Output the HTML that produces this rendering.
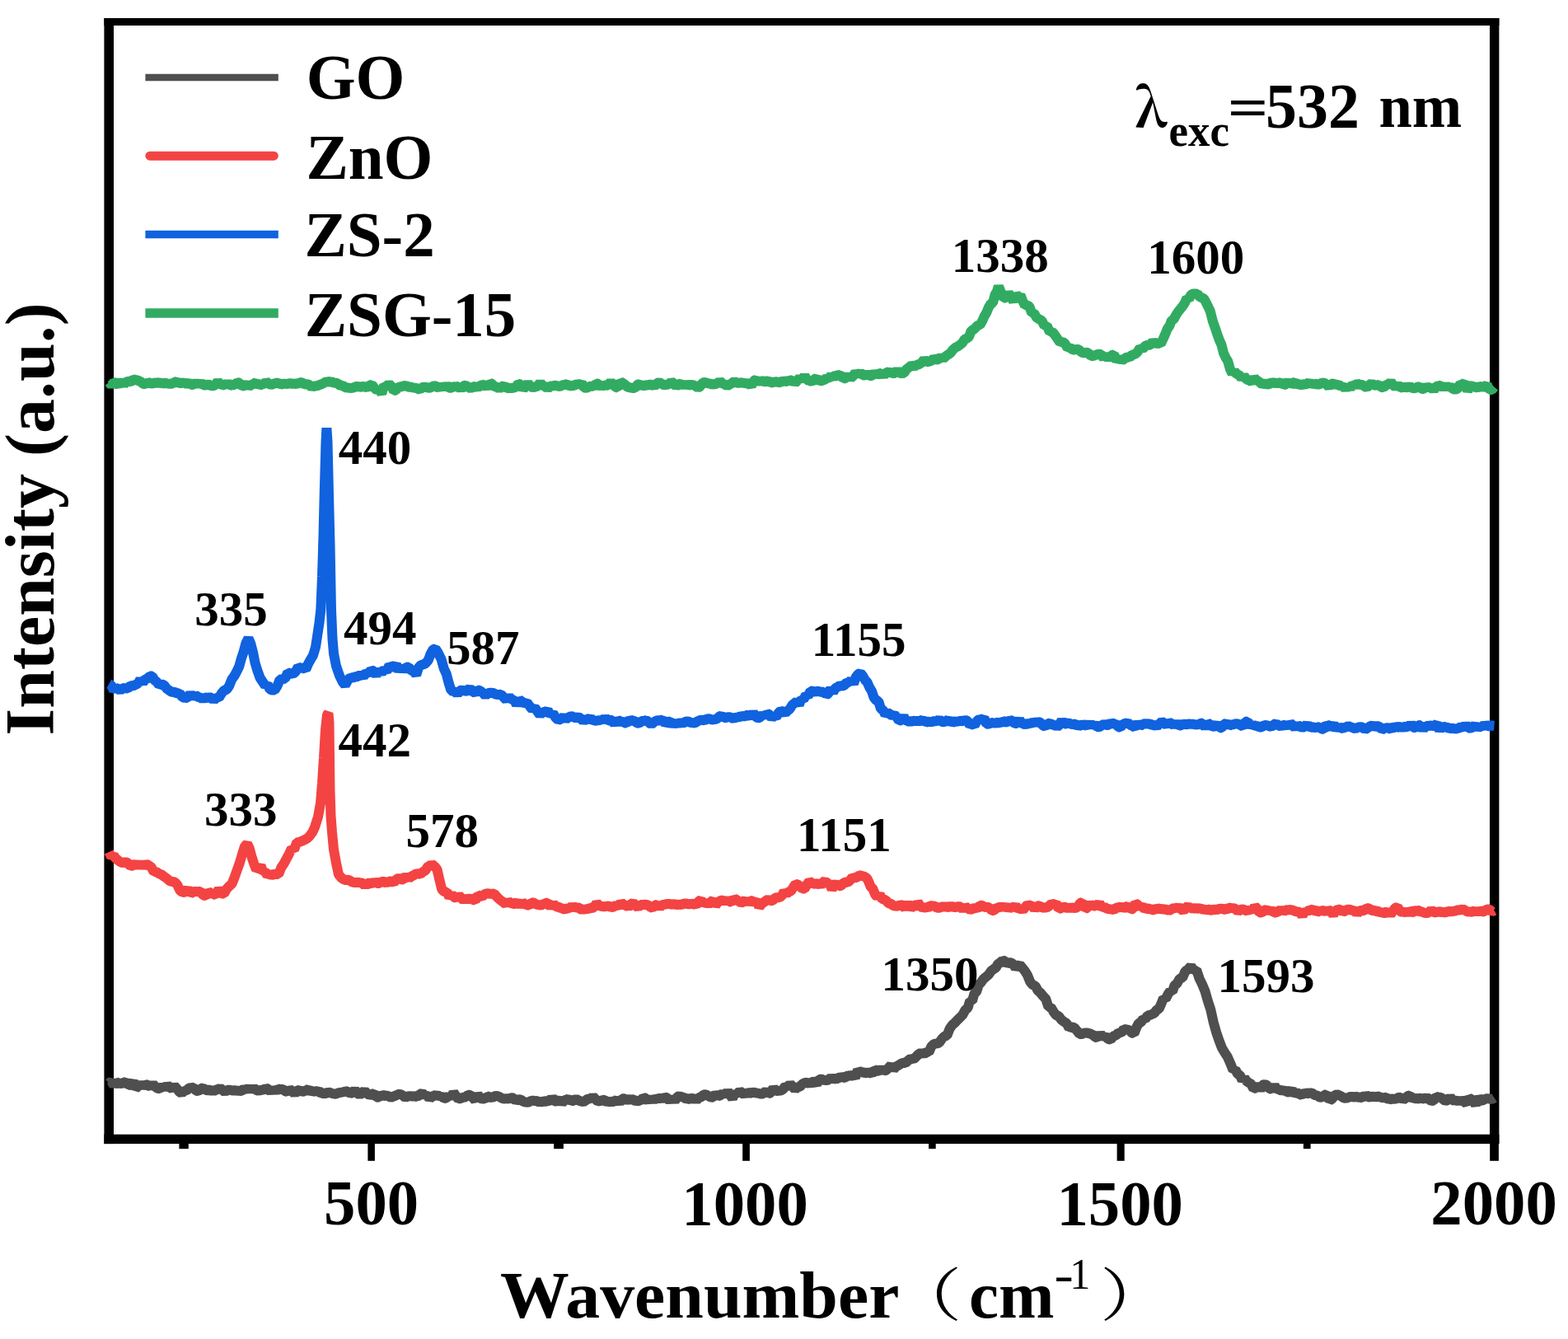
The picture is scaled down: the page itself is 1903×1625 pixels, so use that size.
<!DOCTYPE html>
<html><head><meta charset="utf-8"><title>Raman spectra</title>
<style>html,body{margin:0;padding:0;background:#fff;width:1903px;height:1625px;overflow:hidden}svg{display:block}</style>
</head><body>
<svg width="1903" height="1625" viewBox="0 0 1903 1625">
<rect width="1903" height="1625" fill="#fff"/>
<rect x="126.4" y="22.0" width="1693.0" height="9.0" fill="#000"/>
<rect x="126.4" y="1376.7" width="1693.0" height="11.4" fill="#000"/>
<rect x="126.4" y="22.0" width="11.6" height="1366.1" fill="#000"/>
<rect x="1808.0" y="22.0" width="11.4" height="1366.1" fill="#000"/>
<rect x="446.4" y="1387.0" width="8.5" height="21.8" fill="#000"/>
<rect x="901.2" y="1387.0" width="8.7" height="21.8" fill="#000"/>
<rect x="1355.6" y="1387.0" width="9.1" height="21.8" fill="#000"/>
<rect x="1808.2" y="1387.0" width="10.7" height="21.8" fill="#000"/>
<rect x="217.4" y="1387.0" width="11.4" height="7.2" fill="#000"/>
<rect x="672.2" y="1387.0" width="11.7" height="7.2" fill="#000"/>
<rect x="1127.1" y="1387.0" width="8.6" height="7.2" fill="#000"/>
<rect x="1581.9" y="1387.0" width="8.7" height="7.2" fill="#000"/>
<path d="M132.2,1314.7 L135.2,1311.9 L138.1,1317.4 L141.1,1313.3 L144.0,1314.6 L147.0,1315.1 L150.0,1313.9 L152.9,1312.8 L155.9,1317.0 L158.8,1316.5 L161.8,1312.1 L164.7,1320.9 L167.7,1318.3 L170.7,1315.0 L173.6,1318.5 L176.6,1316.0 L179.5,1317.0 L182.5,1318.9 L185.4,1315.0 L188.3,1318.9 L191.2,1320.9 L194.2,1321.1 L197.1,1318.2 L200.0,1321.0 L202.9,1316.4 L205.8,1319.7 L208.8,1321.3 L211.7,1318.1 L214.6,1321.0 L217.5,1324.9 L220.4,1327.0 L223.3,1323.6 L226.2,1323.9 L229.2,1320.5 L232.1,1320.1 L235.0,1319.8 L237.9,1323.7 L240.8,1324.1 L243.8,1321.3 L246.7,1320.1 L249.6,1323.1 L252.5,1323.2 L255.5,1322.3 L258.4,1325.1 L261.3,1322.4 L264.2,1322.5 L267.1,1320.4 L270.1,1322.9 L273.0,1325.3 L275.9,1322.7 L278.8,1322.7 L281.8,1323.5 L284.7,1323.2 L287.6,1323.7 L290.5,1323.7 L293.4,1323.9 L296.3,1321.1 L299.2,1323.3 L302.2,1319.6 L305.1,1323.4 L308.0,1320.4 L310.9,1322.9 L313.8,1324.0 L316.7,1322.4 L319.6,1323.5 L322.5,1320.1 L325.4,1321.8 L328.4,1324.9 L331.3,1321.3 L334.2,1325.0 L337.1,1321.0 L340.0,1322.1 L342.9,1321.8 L345.9,1324.1 L348.8,1325.2 L351.7,1322.0 L354.6,1323.9 L357.6,1327.6 L360.5,1323.7 L363.4,1322.8 L366.4,1325.3 L369.3,1324.1 L372.2,1323.2 L375.1,1321.1 L378.1,1326.4 L381.0,1323.7 L383.9,1324.9 L386.8,1322.9 L389.8,1327.7 L392.7,1326.7 L395.6,1327.3 L398.5,1325.2 L401.5,1326.4 L404.4,1327.4 L407.3,1327.7 L410.2,1326.4 L413.2,1325.8 L416.1,1325.3 L419.0,1324.7 L421.9,1324.3 L424.8,1327.1 L427.8,1326.0 L430.7,1322.7 L433.6,1326.5 L436.5,1329.0 L439.5,1326.5 L442.4,1323.5 L445.3,1327.1 L448.2,1329.0 L451.1,1328.0 L454.1,1326.9 L457.0,1331.6 L459.9,1331.9 L462.8,1328.0 L465.7,1330.0 L468.6,1329.4 L471.6,1330.3 L474.5,1331.8 L477.4,1330.7 L480.3,1329.4 L483.2,1328.1 L486.1,1327.9 L489.1,1329.6 L492.0,1332.1 L494.9,1330.5 L497.8,1330.1 L500.7,1330.6 L503.6,1330.2 L506.6,1331.3 L509.5,1328.1 L512.4,1326.4 L515.3,1329.6 L518.3,1328.2 L521.2,1333.8 L524.1,1330.3 L527.0,1330.2 L529.9,1327.7 L532.9,1331.4 L535.8,1329.6 L538.7,1333.2 L541.6,1332.7 L544.6,1329.5 L547.5,1332.0 L550.4,1325.8 L553.3,1329.9 L556.2,1333.8 L559.2,1333.0 L562.1,1331.8 L565.0,1331.5 L567.9,1328.7 L570.9,1328.9 L573.8,1332.2 L576.7,1335.3 L579.6,1327.5 L582.5,1333.2 L585.5,1333.2 L588.4,1334.0 L591.3,1330.4 L594.2,1331.2 L597.2,1332.4 L600.1,1330.3 L603.0,1330.0 L605.9,1330.9 L608.8,1332.6 L611.7,1333.7 L614.6,1333.1 L617.6,1333.6 L620.5,1332.3 L623.4,1332.5 L626.3,1336.4 L629.2,1334.3 L632.1,1334.5 L635.0,1336.8 L637.9,1337.6 L640.9,1337.9 L643.8,1336.3 L646.7,1335.5 L649.6,1336.3 L652.5,1336.1 L655.4,1338.5 L658.3,1336.3 L661.2,1336.9 L664.2,1335.6 L667.1,1338.3 L670.0,1331.4 L672.9,1336.2 L675.8,1336.9 L678.8,1333.0 L681.7,1339.6 L684.6,1334.9 L687.5,1334.9 L690.4,1333.0 L693.3,1336.8 L696.2,1335.5 L699.2,1333.8 L702.1,1335.5 L705.0,1336.4 L707.9,1337.4 L710.8,1335.5 L713.8,1333.1 L716.7,1334.0 L719.6,1330.5 L722.5,1333.7 L725.5,1336.7 L728.4,1336.2 L731.3,1335.1 L734.2,1334.7 L737.1,1338.6 L740.1,1336.1 L743.0,1337.4 L745.9,1336.4 L748.8,1334.3 L751.8,1338.8 L754.7,1333.2 L757.6,1333.3 L760.5,1334.8 L763.4,1334.2 L766.3,1334.5 L769.2,1334.3 L772.2,1337.3 L775.1,1335.3 L778.0,1335.8 L780.9,1331.7 L783.8,1333.0 L786.7,1336.7 L789.6,1331.9 L792.5,1336.5 L795.4,1331.9 L798.4,1334.3 L801.3,1331.9 L804.2,1333.7 L807.1,1331.4 L810.0,1332.5 L812.9,1336.2 L815.9,1331.9 L818.8,1336.5 L821.7,1331.4 L824.6,1329.8 L827.6,1332.1 L830.5,1330.9 L833.4,1335.0 L836.4,1333.0 L839.3,1333.5 L842.2,1332.2 L845.1,1335.7 L848.1,1332.1 L851.0,1331.4 L853.9,1328.5 L856.8,1328.2 L859.8,1330.2 L862.7,1331.6 L865.6,1331.7 L868.5,1327.4 L871.5,1330.2 L874.4,1329.3 L877.3,1326.6 L880.2,1329.7 L883.2,1324.0 L886.1,1328.9 L889.0,1333.2 L891.9,1326.0 L894.8,1327.9 L897.8,1324.0 L900.7,1326.1 L903.6,1328.9 L906.5,1325.1 L909.5,1326.9 L912.4,1326.0 L915.3,1325.7 L918.2,1326.6 L921.1,1326.9 L924.0,1328.0 L927.0,1326.8 L929.9,1323.6 L932.8,1327.1 L935.7,1326.3 L938.6,1320.1 L941.5,1324.1 L944.5,1323.8 L947.4,1323.6 L950.3,1322.2 L953.2,1317.9 L956.1,1319.4 L959.0,1315.3 L962.0,1318.5 L964.9,1322.4 L967.8,1319.2 L970.7,1319.0 L973.6,1315.7 L976.6,1314.2 L979.5,1313.6 L982.4,1315.4 L985.3,1313.0 L988.3,1312.8 L991.2,1315.8 L994.1,1309.7 L997.0,1309.7 L999.9,1310.8 L1002.9,1311.1 L1005.8,1310.4 L1008.7,1307.4 L1011.6,1310.0 L1014.6,1308.8 L1017.5,1309.2 L1020.4,1305.8 L1023.3,1308.0 L1026.2,1307.4 L1029.2,1305.2 L1032.1,1305.7 L1035.0,1304.6 L1037.9,1307.9 L1040.9,1298.6 L1043.8,1301.5 L1046.7,1300.5 L1049.6,1302.7 L1052.5,1301.7 L1055.5,1301.7 L1058.4,1303.5 L1061.3,1298.2 L1064.2,1299.2 L1067.2,1299.8 L1070.1,1297.2 L1073.0,1299.6 L1075.8,1298.7 L1078.7,1295.7 L1081.5,1292.5 L1084.4,1298.0 L1087.2,1294.5 L1090.1,1293.1 L1093.0,1291.2 L1095.8,1289.8 L1098.9,1290.1 L1102.1,1287.1 L1105.2,1284.5 L1108.4,1285.7 L1111.5,1282.8 L1114.7,1279.5 L1117.8,1277.5 L1121.0,1279.6 L1124.1,1276.6 L1127.3,1277.0 L1130.4,1269.9 L1133.6,1266.9 L1136.7,1266.4 L1139.9,1265.4 L1143.0,1260.9 L1146.2,1257.5 L1149.3,1256.9 L1152.5,1248.6 L1155.6,1244.0 L1158.8,1241.2 L1162.0,1237.9 L1165.1,1234.9 L1168.3,1231.6 L1171.4,1225.9 L1174.6,1223.0 L1177.2,1214.8 L1179.9,1214.8 L1182.5,1205.7 L1185.1,1203.6 L1187.8,1195.0 L1190.4,1192.6 L1193.5,1188.1 L1196.7,1185.5 L1199.8,1182.9 L1203.0,1178.3 L1206.1,1175.9 L1208.7,1174.3 L1211.4,1169.3 L1214.0,1168.6 L1216.7,1165.0 L1219.3,1166.3 L1222.0,1169.9 L1224.7,1168.3 L1227.3,1168.3 L1230.0,1170.6 L1232.6,1174.7 L1235.1,1172.3 L1237.7,1170.8 L1240.8,1174.5 L1244.0,1178.6 L1247.1,1183.7 L1250.3,1191.7 L1253.4,1195.3 L1256.6,1196.6 L1259.7,1202.3 L1262.9,1205.1 L1266.0,1208.9 L1269.2,1212.2 L1272.4,1222.0 L1275.5,1222.4 L1278.7,1227.9 L1281.8,1232.2 L1285.0,1233.1 L1288.1,1237.6 L1291.3,1240.1 L1294.4,1241.8 L1297.6,1247.8 L1300.7,1246.2 L1303.9,1247.2 L1307.0,1250.8 L1310.2,1254.9 L1313.3,1255.0 L1316.5,1253.4 L1319.6,1253.6 L1322.8,1254.4 L1325.9,1255.7 L1329.1,1258.4 L1332.2,1259.9 L1335.4,1254.1 L1338.5,1259.1 L1341.7,1257.2 L1344.8,1261.1 L1348.0,1261.6 L1351.2,1257.5 L1354.3,1256.4 L1357.5,1253.2 L1360.6,1253.9 L1363.8,1248.8 L1367.1,1249.4 L1370.4,1250.1 L1373.7,1253.5 L1376.4,1254.4 L1379.1,1247.3 L1381.9,1241.8 L1384.6,1240.9 L1387.3,1236.4 L1390.0,1237.0 L1392.8,1232.2 L1395.5,1232.0 L1398.3,1230.8 L1401.0,1229.6 L1403.7,1225.6 L1406.5,1224.5 L1409.2,1218.6 L1412.0,1211.3 L1414.7,1212.4 L1417.4,1206.9 L1420.1,1202.8 L1422.9,1203.4 L1425.6,1195.5 L1428.3,1193.8 L1431.7,1187.7 L1435.1,1186.6 L1438.5,1178.6 L1442.0,1176.5 L1445.4,1172.5 L1448.8,1177.9 L1452.2,1177.2 L1455.6,1187.5 L1459.0,1194.5 L1462.5,1202.9 L1465.9,1214.9 L1469.3,1225.2 L1472.7,1240.5 L1476.1,1252.7 L1479.5,1262.6 L1483.0,1271.8 L1486.4,1277.5 L1489.8,1282.6 L1493.2,1290.3 L1496.6,1298.9 L1499.3,1297.9 L1502.1,1303.5 L1504.8,1304.7 L1507.6,1311.2 L1510.3,1308.0 L1513.0,1312.2 L1515.8,1314.0 L1518.5,1315.7 L1521.3,1321.2 L1524.0,1320.5 L1526.7,1316.0 L1529.4,1323.0 L1532.2,1316.8 L1534.9,1315.9 L1537.6,1317.1 L1540.6,1321.0 L1543.7,1322.2 L1546.7,1317.1 L1549.8,1322.9 L1552.8,1321.9 L1555.9,1324.3 L1558.9,1322.5 L1562.0,1325.5 L1565.0,1325.3 L1568.0,1322.3 L1571.1,1328.1 L1574.1,1326.1 L1577.1,1327.7 L1580.2,1329.3 L1583.2,1325.3 L1586.2,1327.5 L1589.3,1326.4 L1592.3,1326.4 L1595.3,1329.0 L1598.4,1329.4 L1601.4,1331.5 L1604.4,1331.8 L1607.5,1329.1 L1610.5,1327.6 L1613.5,1335.8 L1616.6,1333.8 L1619.6,1329.5 L1622.5,1328.0 L1625.4,1329.2 L1628.3,1330.8 L1631.2,1332.7 L1634.1,1332.6 L1637.0,1331.8 L1639.9,1330.6 L1642.8,1331.6 L1645.7,1330.8 L1648.6,1331.7 L1651.4,1331.5 L1654.3,1332.8 L1657.1,1328.1 L1660.0,1331.3 L1662.8,1331.5 L1665.7,1330.0 L1668.6,1332.0 L1671.4,1330.3 L1674.3,1331.2 L1677.1,1332.1 L1680.0,1332.2 L1682.8,1331.7 L1685.7,1335.1 L1688.5,1333.4 L1691.4,1333.7 L1694.3,1333.6 L1697.1,1331.9 L1700.0,1331.6 L1702.8,1335.1 L1705.7,1332.8 L1708.5,1330.0 L1711.4,1329.2 L1714.3,1334.1 L1717.1,1332.3 L1720.0,1333.7 L1722.8,1332.8 L1725.7,1333.1 L1728.5,1333.6 L1731.4,1331.6 L1734.2,1334.1 L1737.1,1336.2 L1739.9,1335.6 L1742.8,1330.8 L1745.6,1331.7 L1748.5,1331.7 L1751.3,1334.0 L1754.2,1336.2 L1757.0,1335.2 L1759.9,1331.1 L1762.7,1334.7 L1765.6,1336.3 L1768.4,1333.8 L1771.3,1338.5 L1774.1,1333.4 L1777.0,1337.0 L1779.8,1339.4 L1782.6,1332.1 L1785.4,1334.1 L1788.2,1335.8 L1791.0,1341.1 L1793.8,1331.1 L1796.7,1335.8 L1799.5,1335.3 L1802.3,1333.9 L1805.1,1333.0 L1807.9,1333.6 L1810.7,1334.1 L1813.5,1332.2" fill="none" stroke="#4f4f4f" stroke-width="12" stroke-linejoin="bevel" stroke-linecap="butt"/>
<path d="M132.2,1034.0 L135.1,1040.0 L138.0,1037.9 L140.6,1041.9 L143.2,1044.0 L145.8,1045.9 L148.9,1047.4 L152.1,1046.0 L155.2,1047.3 L158.4,1051.4 L161.5,1050.4 L164.7,1048.2 L167.8,1051.1 L171.0,1048.3 L174.1,1051.0 L177.3,1048.6 L180.4,1050.2 L183.6,1052.3 L186.7,1058.1 L189.9,1057.9 L193.0,1060.4 L196.2,1061.5 L199.3,1063.9 L202.5,1066.1 L205.6,1068.9 L208.8,1069.9 L212.0,1070.5 L215.1,1073.7 L218.3,1080.4 L221.4,1083.1 L224.6,1082.5 L227.8,1078.3 L230.9,1084.9 L234.1,1082.5 L237.2,1081.9 L240.4,1082.2 L243.5,1081.8 L246.7,1086.7 L249.8,1087.2 L253.0,1082.2 L256.1,1084.1 L259.3,1085.0 L262.4,1086.5 L265.6,1078.4 L268.7,1084.3 L271.9,1084.7 L275.1,1078.7 L278.2,1075.5 L281.4,1072.6 L284.5,1065.1 L287.7,1056.0 L290.9,1047.1 L294.0,1036.6 L297.0,1027.1 L300.0,1024.0 L302.8,1029.7 L305.5,1040.0 L308.2,1048.2 L311.0,1055.4 L313.7,1053.8 L316.5,1050.6 L319.2,1058.1 L321.8,1057.4 L324.4,1062.6 L327.0,1060.8 L329.7,1062.2 L332.3,1061.0 L335.0,1060.8 L338.1,1061.0 L341.3,1052.9 L344.4,1048.3 L347.6,1042.4 L350.7,1036.6 L353.9,1029.7 L357.0,1031.2 L360.2,1022.3 L363.3,1021.8 L366.5,1020.6 L369.6,1019.3 L372.8,1017.5 L375.9,1014.4 L379.1,1010.2 L382.2,1003.4 L386.0,991.2 L389.0,974.8 L391.0,950.4 L393.0,919.3 L395.0,885.6 L397.0,867.2 L398.5,865.5 L399.5,877.5 L400.0,920.0 L400.5,960.1 L401.5,990.2 L403.0,1009.8 L405.0,1030.9 L408.0,1047.5 L411.0,1061.4 L414.5,1065.5 L418.0,1067.9 L420.9,1067.7 L423.8,1067.9 L426.6,1070.2 L429.5,1070.9 L432.2,1071.1 L435.0,1070.8 L437.7,1071.3 L440.4,1071.9 L443.1,1075.5 L445.9,1071.8 L448.6,1071.7 L451.5,1073.0 L454.5,1069.4 L457.4,1072.0 L460.4,1071.9 L463.3,1069.6 L466.2,1070.0 L469.2,1072.0 L472.1,1069.6 L475.1,1069.6 L478.0,1071.0 L481.0,1067.2 L484.0,1065.6 L487.0,1067.2 L490.0,1067.5 L493.0,1062.3 L496.0,1066.4 L499.0,1063.6 L502.0,1062.4 L504.8,1060.4 L507.5,1060.3 L510.2,1060.9 L513.0,1058.3 L516.2,1056.5 L519.5,1051.3 L521.8,1051.0 L524.0,1048.5 L528.0,1052.0 L530.5,1055.2 L533.0,1066.1 L536.3,1079.6 L539.6,1082.6 L542.5,1082.3 L545.3,1089.0 L548.2,1085.6 L551.1,1088.8 L554.0,1090.2 L556.8,1086.3 L559.7,1090.0 L562.6,1092.5 L565.4,1089.7 L568.3,1091.7 L571.2,1090.2 L574.0,1091.9 L576.9,1093.0 L579.8,1086.4 L582.6,1087.3 L585.5,1087.9 L588.4,1085.1 L591.3,1084.2 L594.1,1084.7 L597.0,1084.8 L599.8,1084.6 L602.7,1088.0 L605.5,1090.9 L608.3,1093.1 L611.1,1095.0 L614.0,1097.6 L616.8,1093.3 L619.6,1095.9 L622.5,1096.6 L625.3,1097.4 L628.2,1093.2 L631.0,1100.2 L633.9,1094.7 L636.7,1097.1 L639.5,1098.1 L642.4,1098.8 L645.2,1095.3 L648.1,1095.7 L650.9,1097.6 L653.8,1098.1 L656.6,1098.8 L659.5,1097.1 L662.5,1096.1 L665.4,1095.2 L668.4,1101.7 L671.3,1096.0 L674.2,1100.6 L677.2,1100.3 L680.1,1101.8 L683.1,1102.7 L686.0,1104.0 L688.9,1101.6 L691.9,1102.9 L694.8,1098.5 L697.8,1102.6 L700.7,1100.8 L703.6,1102.3 L706.6,1104.9 L709.5,1102.5 L712.5,1104.3 L715.4,1101.5 L718.3,1102.4 L721.3,1100.5 L724.2,1095.9 L727.2,1099.2 L730.1,1099.8 L733.0,1100.4 L736.0,1099.8 L738.9,1099.3 L741.9,1101.3 L744.8,1100.5 L747.7,1098.3 L750.7,1100.7 L753.6,1094.9 L756.6,1098.2 L759.5,1098.4 L762.5,1101.2 L765.4,1097.5 L768.4,1095.6 L771.3,1098.8 L774.3,1101.7 L777.2,1097.9 L780.2,1098.0 L783.1,1097.8 L786.1,1098.2 L789.0,1100.6 L791.9,1101.9 L794.9,1098.8 L797.8,1097.6 L800.7,1101.5 L803.7,1097.9 L806.6,1097.8 L809.5,1096.9 L812.5,1096.9 L815.4,1098.0 L818.3,1096.9 L821.3,1098.2 L824.2,1097.5 L827.1,1098.3 L830.1,1096.4 L833.0,1096.6 L836.0,1097.4 L838.9,1096.9 L841.9,1096.8 L844.8,1098.7 L847.8,1094.0 L850.7,1092.0 L853.7,1097.1 L856.6,1094.9 L859.6,1097.8 L862.5,1094.7 L865.5,1092.3 L868.4,1098.7 L871.4,1094.9 L874.3,1093.0 L877.3,1092.2 L880.0,1094.7 L882.8,1092.0 L885.5,1094.0 L888.3,1095.3 L891.0,1090.1 L893.8,1092.0 L896.5,1093.6 L899.3,1095.9 L902.0,1094.6 L904.8,1092.0 L907.5,1096.1 L910.3,1092.8 L913.0,1093.6 L915.8,1095.0 L918.5,1092.4 L921.3,1100.9 L924.0,1097.2 L926.8,1095.1 L929.5,1093.1 L932.3,1091.2 L935.1,1093.3 L937.9,1092.9 L940.7,1089.7 L943.4,1088.9 L946.2,1089.3 L949.0,1086.8 L951.7,1081.8 L954.5,1085.0 L957.2,1082.3 L960.0,1081.5 L962.8,1076.9 L965.5,1072.8 L968.3,1073.5 L971.1,1075.8 L973.8,1078.6 L976.6,1078.4 L979.3,1073.7 L982.1,1069.6 L984.9,1071.4 L987.6,1072.7 L990.4,1072.6 L993.1,1072.0 L995.9,1074.9 L998.6,1071.0 L1001.4,1069.0 L1004.1,1072.2 L1006.9,1072.2 L1009.6,1079.3 L1012.4,1074.6 L1015.2,1071.9 L1017.9,1075.3 L1020.7,1075.0 L1023.5,1071.8 L1026.2,1070.6 L1029.0,1070.8 L1031.7,1068.3 L1034.5,1064.6 L1037.2,1065.7 L1040.0,1064.7 L1042.8,1062.2 L1045.5,1062.8 L1048.8,1063.7 L1052.0,1065.6 L1054.3,1070.0 L1056.6,1076.0 L1059.3,1078.4 L1062.1,1085.4 L1064.8,1089.0 L1067.6,1085.4 L1070.4,1091.1 L1073.1,1091.5 L1075.9,1093.3 L1078.7,1096.3 L1081.4,1096.9 L1084.2,1099.3 L1086.9,1099.5 L1089.7,1099.9 L1092.7,1097.8 L1095.7,1098.9 L1098.7,1102.6 L1101.7,1094.9 L1104.7,1103.4 L1107.8,1098.9 L1110.8,1102.5 L1113.8,1095.0 L1116.8,1099.4 L1119.8,1102.0 L1122.8,1100.7 L1125.7,1102.5 L1128.6,1098.8 L1131.4,1099.5 L1134.3,1099.4 L1137.2,1101.8 L1140.1,1101.7 L1142.9,1100.6 L1145.8,1100.4 L1148.7,1100.4 L1151.6,1101.2 L1154.5,1099.2 L1157.3,1101.1 L1160.2,1100.9 L1163.1,1100.2 L1166.0,1100.2 L1168.9,1104.3 L1171.7,1100.2 L1174.6,1102.3 L1177.5,1104.2 L1180.4,1103.0 L1183.2,1101.5 L1186.1,1103.5 L1189.0,1098.7 L1191.9,1099.0 L1194.8,1100.7 L1197.7,1101.0 L1200.6,1101.3 L1203.5,1105.2 L1206.4,1104.8 L1209.3,1101.3 L1212.2,1101.9 L1215.1,1099.5 L1218.0,1102.0 L1220.9,1098.6 L1223.8,1104.0 L1226.7,1100.2 L1229.6,1102.3 L1232.5,1098.5 L1235.4,1103.9 L1238.3,1102.3 L1241.2,1104.9 L1244.1,1101.1 L1247.1,1097.7 L1250.0,1099.3 L1252.9,1098.3 L1255.8,1103.9 L1258.7,1099.5 L1261.6,1099.2 L1264.5,1101.9 L1267.4,1101.2 L1270.3,1101.6 L1273.2,1099.6 L1276.1,1096.5 L1279.0,1097.8 L1281.9,1096.1 L1284.8,1103.0 L1287.7,1102.3 L1290.6,1099.7 L1293.5,1101.7 L1296.4,1101.8 L1299.3,1101.7 L1302.2,1101.5 L1305.1,1102.2 L1308.0,1100.6 L1310.9,1096.0 L1313.9,1094.9 L1316.8,1103.0 L1319.7,1101.7 L1322.6,1095.5 L1325.5,1100.9 L1328.4,1098.8 L1331.3,1099.5 L1334.2,1095.5 L1337.2,1102.3 L1340.1,1100.6 L1343.0,1102.5 L1345.9,1103.1 L1348.8,1103.5 L1351.7,1104.3 L1354.6,1101.6 L1357.5,1101.5 L1360.4,1099.9 L1363.4,1102.3 L1366.3,1100.8 L1369.2,1099.0 L1372.1,1103.8 L1375.0,1102.9 L1377.9,1096.2 L1380.8,1097.9 L1383.7,1101.2 L1386.6,1099.1 L1389.6,1104.3 L1392.5,1102.2 L1395.4,1103.1 L1398.3,1103.9 L1401.2,1104.8 L1404.1,1101.6 L1407.0,1103.5 L1409.9,1102.8 L1412.9,1103.9 L1415.8,1103.5 L1418.7,1105.3 L1421.6,1103.6 L1424.5,1101.6 L1427.4,1102.8 L1430.3,1100.3 L1433.2,1103.3 L1436.1,1105.8 L1439.0,1101.6 L1441.8,1099.5 L1444.7,1102.7 L1447.6,1101.9 L1450.5,1103.0 L1453.4,1101.9 L1456.3,1103.3 L1459.2,1101.1 L1462.1,1106.3 L1465.0,1102.8 L1467.8,1104.4 L1470.7,1104.9 L1473.6,1103.1 L1476.5,1104.4 L1479.4,1103.0 L1482.3,1102.7 L1485.2,1103.2 L1488.1,1104.7 L1491.0,1101.2 L1493.9,1102.0 L1496.8,1102.2 L1499.6,1102.8 L1502.5,1106.3 L1505.4,1104.0 L1508.3,1103.5 L1511.2,1104.4 L1514.1,1106.3 L1517.0,1102.7 L1519.9,1106.3 L1522.8,1099.6 L1525.7,1102.6 L1528.5,1107.4 L1531.4,1107.6 L1534.3,1104.9 L1537.2,1103.7 L1540.1,1106.2 L1543.0,1103.8 L1545.9,1107.8 L1548.8,1107.1 L1551.7,1106.3 L1554.5,1103.1 L1557.4,1106.7 L1560.3,1104.3 L1563.2,1104.4 L1566.1,1104.0 L1569.0,1104.7 L1571.9,1105.9 L1574.8,1106.6 L1577.7,1106.7 L1580.6,1111.8 L1583.5,1104.3 L1586.3,1107.4 L1589.2,1103.7 L1592.1,1104.7 L1595.0,1102.8 L1597.9,1107.5 L1600.8,1105.7 L1603.7,1105.4 L1606.6,1104.9 L1609.5,1107.0 L1612.3,1104.2 L1615.2,1106.0 L1618.1,1110.3 L1621.0,1105.0 L1623.9,1104.0 L1626.8,1103.3 L1629.7,1107.0 L1632.6,1105.5 L1635.5,1103.8 L1638.4,1103.7 L1641.2,1105.4 L1644.1,1103.4 L1647.0,1109.6 L1649.9,1105.0 L1652.8,1105.1 L1655.7,1105.3 L1658.6,1101.8 L1661.5,1102.5 L1664.4,1104.7 L1667.3,1105.4 L1670.2,1103.0 L1673.0,1108.9 L1675.9,1106.4 L1678.8,1108.1 L1681.7,1107.9 L1684.6,1105.1 L1687.5,1110.4 L1690.4,1105.8 L1693.3,1101.8 L1696.2,1100.9 L1699.0,1105.6 L1701.9,1107.3 L1704.8,1105.7 L1707.7,1109.1 L1710.6,1105.0 L1713.5,1106.7 L1716.4,1107.0 L1719.4,1103.5 L1722.3,1106.2 L1725.3,1106.3 L1728.2,1107.7 L1731.1,1108.0 L1734.1,1107.5 L1737.0,1104.0 L1740.0,1107.0 L1742.9,1107.7 L1745.9,1105.6 L1748.8,1107.0 L1751.7,1107.0 L1754.7,1107.8 L1757.6,1105.6 L1760.6,1106.4 L1763.5,1105.8 L1766.4,1105.5 L1769.4,1104.1 L1772.3,1104.6 L1775.3,1103.0 L1778.2,1104.9 L1781.1,1106.6 L1784.1,1106.5 L1787.0,1106.7 L1790.0,1104.9 L1792.9,1107.9 L1795.9,1104.2 L1798.8,1106.6 L1801.7,1105.9 L1804.7,1103.5 L1807.6,1103.6 L1810.6,1106.5 L1813.5,1105.0" fill="none" stroke="#f44343" stroke-width="12" stroke-linejoin="bevel" stroke-linecap="butt"/>
<path d="M132.2,830.0 L135.1,831.6 L138.0,838.2 L140.6,834.9 L143.2,835.9 L145.8,838.0 L148.9,835.1 L152.1,835.3 L155.2,835.6 L158.4,832.0 L161.5,832.5 L164.4,830.9 L167.4,829.7 L170.3,824.2 L173.2,829.1 L176.1,823.8 L179.1,823.9 L182.0,820.3 L184.8,820.7 L187.5,825.5 L190.2,827.4 L193.0,831.4 L196.2,830.2 L199.3,831.7 L202.5,835.9 L205.6,838.1 L208.8,840.0 L212.0,839.6 L215.1,841.8 L218.3,841.2 L221.4,846.5 L224.6,846.7 L227.8,846.9 L230.9,841.6 L234.1,846.6 L237.2,843.5 L240.4,846.1 L243.1,846.4 L245.8,848.6 L248.5,846.5 L251.2,847.0 L253.9,846.4 L256.6,846.6 L259.3,850.3 L262.4,846.4 L265.6,846.9 L268.8,841.6 L271.9,837.8 L275.1,836.9 L278.2,832.3 L281.4,824.3 L284.5,820.1 L287.7,814.1 L290.3,808.6 L292.9,799.1 L295.5,791.5 L298.5,780.2 L301.5,774.5 L304.2,780.9 L307.0,791.5 L309.5,804.1 L312.0,812.6 L315.6,822.6 L319.2,828.1 L321.9,832.3 L324.7,830.3 L327.4,836.5 L330.2,837.6 L333.4,837.5 L336.5,832.6 L339.6,824.7 L342.8,824.1 L346.0,823.8 L349.1,816.3 L352.3,817.1 L355.4,818.1 L358.6,815.2 L361.8,809.5 L364.9,810.9 L368.1,810.4 L371.2,812.4 L374.4,804.9 L377.2,800.0 L380.0,795.4 L383.0,785.4 L385.0,772.4 L387.5,755.9 L389.3,740.0 L391.0,699.8 L392.5,650.0 L393.7,600.0 L395.5,536.2 L396.4,519.3 L397.5,535.9 L399.0,600.1 L400.5,660.1 L402.0,740.0 L403.5,775.3 L405.0,793.1 L408.0,808.3 L412.0,819.9 L415.8,827.7 L418.9,831.6 L422.1,825.7 L425.2,822.0 L428.4,822.7 L431.5,821.0 L434.7,821.2 L437.8,818.3 L441.0,821.3 L444.1,816.2 L447.3,817.8 L450.4,813.0 L453.6,814.6 L456.7,819.8 L459.9,813.0 L463.0,816.9 L466.2,812.1 L469.3,814.8 L472.5,807.3 L475.3,809.3 L478.2,809.4 L481.0,806.2 L483.9,814.5 L486.7,809.2 L489.9,813.3 L493.0,809.8 L496.2,809.6 L499.3,814.1 L502.5,814.5 L505.2,819.3 L508.0,810.1 L510.8,807.1 L513.5,806.5 L516.6,805.0 L519.8,801.1 L522.7,793.5 L525.6,788.2 L528.5,787.2 L532.0,792.8 L535.6,800.2 L538.8,811.6 L541.9,818.3 L544.5,828.4 L547.2,837.1 L549.8,839.4 L552.4,839.0 L555.1,842.6 L557.7,838.8 L560.8,837.0 L564.0,839.0 L567.1,838.3 L570.3,835.0 L573.4,839.1 L576.6,840.9 L579.7,837.4 L582.9,838.2 L586.0,840.9 L589.2,844.3 L592.4,840.9 L595.5,840.7 L598.7,841.0 L601.8,842.8 L605.0,843.0 L608.1,842.7 L611.3,846.3 L614.4,849.4 L617.6,845.0 L620.7,849.3 L623.9,848.9 L627.0,855.5 L630.2,849.1 L633.3,851.4 L636.5,853.8 L639.6,852.6 L642.8,857.0 L645.9,860.9 L649.1,858.7 L652.2,863.3 L655.4,867.8 L658.5,864.0 L661.7,864.3 L664.8,861.9 L668.0,867.6 L671.2,865.5 L674.3,870.9 L677.5,874.0 L680.6,872.5 L683.8,870.1 L686.8,872.9 L689.9,870.5 L692.9,869.0 L695.9,870.1 L699.0,871.4 L702.0,870.1 L704.9,872.0 L707.9,875.4 L710.8,872.6 L713.8,873.3 L716.7,870.9 L719.7,875.3 L722.6,873.9 L725.6,875.7 L728.5,872.6 L731.5,875.1 L734.4,870.4 L737.4,874.7 L740.3,874.0 L743.3,873.9 L746.2,879.4 L749.1,872.9 L752.1,875.7 L755.0,875.7 L758.0,877.0 L760.9,878.0 L763.9,872.7 L766.8,874.9 L769.8,874.5 L772.7,877.3 L775.7,877.8 L778.6,875.1 L781.6,874.9 L784.5,873.9 L787.5,876.7 L790.4,879.3 L793.3,876.7 L796.3,874.5 L799.2,874.3 L802.2,874.5 L805.1,872.6 L808.0,879.4 L811.0,876.1 L813.9,875.3 L816.9,880.4 L819.8,876.4 L822.7,878.9 L825.7,876.5 L828.6,878.1 L831.6,876.1 L834.5,875.2 L837.4,876.7 L840.4,877.1 L843.3,877.6 L846.3,875.5 L849.2,874.2 L852.1,873.6 L855.1,874.5 L858.0,872.4 L861.0,872.2 L863.9,873.5 L866.8,873.1 L869.8,872.6 L872.7,869.8 L875.7,868.1 L878.6,871.4 L881.5,870.9 L884.5,869.9 L887.4,870.9 L890.4,872.2 L893.3,870.0 L896.3,871.2 L899.2,868.3 L902.2,869.8 L905.1,868.5 L908.1,867.3 L911.0,871.0 L914.0,864.3 L916.9,869.8 L919.9,871.4 L922.8,870.5 L925.5,866.5 L928.3,869.9 L931.0,865.6 L933.8,867.2 L936.5,871.6 L939.3,868.7 L942.0,870.3 L944.8,865.3 L947.6,862.5 L950.3,863.7 L953.1,865.6 L955.9,862.5 L958.7,860.3 L961.5,855.6 L964.2,853.4 L967.0,851.2 L969.8,855.4 L972.5,848.0 L975.2,849.2 L978.0,843.5 L980.8,844.8 L983.5,838.6 L986.2,838.8 L989.0,840.2 L991.8,838.5 L994.5,839.2 L997.2,840.0 L1000.0,839.4 L1002.8,843.3 L1005.5,841.7 L1008.2,835.5 L1011.0,840.2 L1013.8,835.2 L1016.5,833.7 L1019.2,831.9 L1022.0,832.8 L1024.8,831.5 L1027.6,828.2 L1030.4,828.5 L1033.2,824.8 L1036.0,829.7 L1038.7,821.8 L1041.5,818.2 L1044.2,816.6 L1047.1,820.3 L1050.0,825.4 L1052.6,828.2 L1055.2,834.1 L1058.0,838.8 L1060.7,846.7 L1063.5,850.0 L1066.2,850.9 L1069.0,860.2 L1071.8,861.7 L1074.5,867.6 L1077.3,864.9 L1080.0,866.6 L1082.8,868.6 L1085.5,867.3 L1088.3,870.4 L1091.0,874.6 L1093.8,874.2 L1096.5,868.6 L1099.3,876.3 L1102.3,874.8 L1105.2,876.0 L1108.2,874.6 L1111.1,875.1 L1114.1,875.0 L1117.0,875.1 L1120.0,873.0 L1122.9,877.2 L1125.7,875.7 L1128.6,876.1 L1131.4,876.1 L1134.3,874.8 L1137.1,875.4 L1140.0,872.9 L1142.9,876.1 L1145.7,876.2 L1148.6,875.2 L1151.4,872.3 L1154.3,878.5 L1157.1,875.5 L1160.0,875.8 L1162.9,875.3 L1165.7,874.8 L1168.6,875.2 L1171.4,873.8 L1174.3,874.9 L1177.1,880.2 L1180.0,878.5 L1182.9,880.2 L1185.7,875.0 L1188.6,872.5 L1191.4,873.6 L1194.3,871.1 L1197.1,878.6 L1200.0,878.9 L1202.9,876.8 L1205.7,877.4 L1208.6,877.4 L1211.4,876.5 L1214.3,878.3 L1217.1,874.8 L1220.0,876.1 L1222.9,876.7 L1225.7,873.7 L1228.6,875.2 L1231.4,878.1 L1234.3,878.0 L1237.1,872.5 L1240.0,879.3 L1242.9,878.3 L1245.7,879.2 L1248.6,877.6 L1251.4,879.0 L1254.3,875.3 L1257.1,877.5 L1260.0,875.9 L1262.9,877.1 L1265.7,880.5 L1268.6,881.5 L1271.4,878.4 L1274.3,877.5 L1277.1,880.0 L1280.0,879.4 L1282.9,882.4 L1285.7,879.8 L1288.6,873.9 L1291.4,878.8 L1294.3,878.1 L1297.1,877.2 L1300.0,879.1 L1302.9,879.0 L1305.7,878.2 L1308.6,882.0 L1311.4,879.8 L1314.3,879.9 L1317.1,879.4 L1320.0,881.6 L1322.9,877.0 L1325.7,881.6 L1328.6,878.8 L1331.4,882.3 L1334.3,882.2 L1337.1,880.3 L1340.0,878.5 L1342.9,880.0 L1345.7,880.1 L1348.6,876.5 L1351.4,878.8 L1354.3,878.1 L1357.1,882.2 L1360.0,882.9 L1362.9,878.0 L1365.9,878.4 L1368.8,876.8 L1371.8,880.0 L1374.7,881.1 L1377.6,883.1 L1380.6,876.9 L1383.5,881.3 L1386.5,879.2 L1389.4,878.0 L1392.4,878.8 L1395.3,877.9 L1398.2,880.4 L1401.2,879.5 L1404.1,881.8 L1407.1,878.4 L1410.0,875.7 L1412.9,877.5 L1415.9,880.1 L1418.8,876.5 L1421.8,878.0 L1424.7,880.5 L1427.6,876.7 L1430.6,881.1 L1433.5,880.1 L1436.5,878.3 L1439.4,879.4 L1442.4,878.5 L1445.3,878.7 L1448.2,878.8 L1451.2,879.5 L1454.1,879.3 L1457.1,878.0 L1460.0,877.5 L1462.9,883.6 L1465.7,877.3 L1468.6,879.2 L1471.4,881.9 L1474.3,881.5 L1477.2,878.1 L1480.0,883.5 L1482.9,883.1 L1485.8,879.0 L1488.6,877.2 L1491.5,880.9 L1494.3,879.4 L1497.2,879.2 L1500.1,878.2 L1502.9,878.7 L1505.8,880.2 L1508.6,881.7 L1511.5,875.9 L1514.4,875.3 L1517.2,882.0 L1520.1,878.5 L1522.9,881.6 L1525.8,880.5 L1528.7,882.8 L1531.5,882.2 L1534.4,879.9 L1537.2,880.2 L1540.1,881.2 L1543.0,882.1 L1545.8,879.5 L1548.7,877.7 L1551.6,881.0 L1554.4,880.8 L1557.3,880.6 L1560.1,879.0 L1563.0,882.3 L1565.9,877.7 L1568.9,880.2 L1571.8,883.8 L1574.7,879.1 L1577.6,882.2 L1580.6,882.4 L1583.5,882.4 L1586.4,878.3 L1589.4,883.8 L1592.3,882.2 L1595.2,882.9 L1598.1,882.7 L1601.1,882.3 L1604.0,884.7 L1606.9,885.2 L1609.9,878.7 L1612.8,881.0 L1615.7,882.3 L1618.6,878.4 L1621.6,885.7 L1624.5,881.3 L1627.4,884.0 L1630.4,883.4 L1633.3,882.5 L1636.2,881.0 L1639.1,882.3 L1642.1,883.2 L1645.0,884.6 L1647.9,882.7 L1650.9,882.3 L1653.8,882.5 L1656.7,885.6 L1659.6,883.6 L1662.6,881.6 L1665.5,880.4 L1668.4,882.1 L1671.4,881.0 L1674.3,881.9 L1677.2,885.4 L1680.1,884.1 L1683.1,883.1 L1686.0,883.4 L1688.9,886.0 L1691.9,880.2 L1694.8,883.3 L1697.7,882.0 L1700.6,882.6 L1703.6,882.4 L1706.5,881.6 L1709.4,883.3 L1712.4,877.8 L1715.3,882.7 L1718.2,883.5 L1721.1,880.2 L1724.1,880.1 L1727.0,885.9 L1729.9,880.3 L1732.8,881.3 L1735.7,880.5 L1738.5,880.9 L1741.4,880.7 L1744.3,877.9 L1747.2,886.8 L1750.1,880.6 L1753.0,882.8 L1755.8,881.9 L1758.7,884.7 L1761.6,883.4 L1764.5,884.3 L1767.4,884.4 L1770.2,883.7 L1773.1,882.1 L1776.0,883.9 L1778.9,878.9 L1781.8,883.8 L1784.7,883.5 L1787.5,882.7 L1790.4,879.4 L1793.3,884.7 L1796.2,880.7 L1799.1,883.3 L1802.0,878.4 L1804.8,881.7 L1807.7,880.8 L1810.6,880.5 L1813.5,880.7" fill="none" stroke="#1062de" stroke-width="12" stroke-linejoin="bevel" stroke-linecap="butt"/>
<path d="M132.2,464.0 L135.2,467.6 L138.1,464.0 L141.1,464.7 L144.1,468.3 L147.1,461.2 L150.1,467.1 L153.0,463.3 L156.0,462.8 L158.9,463.2 L161.9,460.5 L164.8,461.1 L167.7,461.9 L170.6,463.1 L173.6,465.7 L176.5,466.5 L179.4,463.7 L182.3,465.2 L185.3,465.5 L188.2,464.2 L191.1,465.2 L194.0,463.7 L197.0,466.1 L199.9,464.7 L202.8,465.3 L205.7,465.8 L208.7,465.7 L211.6,464.1 L214.5,462.9 L217.4,465.6 L220.4,464.6 L223.3,464.8 L226.2,465.7 L229.1,464.5 L232.1,466.9 L235.0,466.8 L237.9,464.3 L240.9,466.8 L243.8,464.2 L246.7,467.6 L249.6,467.4 L252.6,466.2 L255.5,468.0 L258.4,468.3 L261.3,467.2 L264.3,462.7 L267.2,466.6 L270.1,466.7 L273.0,468.0 L276.0,464.4 L278.9,467.8 L281.8,467.1 L284.7,467.3 L287.7,464.0 L290.6,464.7 L293.5,468.7 L296.4,468.1 L299.4,466.3 L302.3,468.7 L305.2,467.0 L308.1,465.7 L311.1,463.4 L314.0,468.5 L316.9,466.2 L319.9,467.0 L322.8,462.9 L325.7,465.4 L328.6,467.1 L331.6,466.0 L334.5,465.0 L337.4,464.3 L340.3,466.9 L343.3,465.8 L346.2,465.8 L349.1,465.9 L352.0,465.2 L355.0,465.8 L357.9,465.3 L360.8,466.6 L363.7,463.8 L366.7,464.3 L369.6,466.5 L372.5,466.2 L375.4,466.8 L378.4,470.5 L381.3,468.0 L384.2,468.7 L387.1,467.3 L390.1,466.3 L393.0,464.9 L395.9,462.9 L398.8,463.9 L401.7,462.3 L404.6,465.0 L407.4,464.4 L410.3,465.9 L413.2,468.1 L416.1,467.6 L419.0,470.3 L421.9,470.5 L424.9,470.9 L427.8,470.7 L430.8,469.7 L433.7,468.3 L436.7,470.3 L439.6,469.1 L442.6,469.3 L445.5,470.6 L448.4,467.8 L451.4,466.8 L454.3,470.8 L457.3,473.7 L460.2,472.5 L463.2,477.8 L466.1,467.6 L469.1,469.1 L472.0,465.8 L474.9,468.7 L477.8,474.1 L480.7,473.6 L483.6,468.4 L486.4,469.7 L489.3,468.7 L492.2,467.6 L495.1,469.8 L498.0,469.6 L500.9,470.4 L503.8,470.7 L506.7,471.6 L509.6,472.9 L512.4,470.0 L515.3,469.7 L518.2,470.1 L521.1,470.9 L524.0,469.7 L526.9,468.0 L529.9,468.9 L532.8,471.3 L535.8,467.8 L538.7,471.4 L541.7,466.9 L544.6,470.8 L547.6,470.7 L550.5,469.1 L553.4,469.4 L556.4,468.9 L559.3,472.6 L562.3,468.4 L565.2,467.7 L568.2,469.9 L571.1,471.3 L574.1,469.7 L577.0,468.7 L579.9,471.0 L582.8,467.4 L585.7,467.4 L588.6,466.4 L591.4,471.2 L594.3,464.4 L597.2,466.2 L600.1,469.2 L603.0,469.5 L605.9,472.1 L608.8,469.5 L611.7,467.7 L614.6,471.4 L617.4,470.7 L620.3,470.9 L623.2,470.7 L626.1,469.6 L629.0,465.7 L632.0,466.5 L634.9,472.5 L637.9,468.7 L640.8,465.0 L643.8,468.7 L646.8,470.5 L649.7,469.4 L652.7,468.6 L655.6,464.0 L658.6,468.7 L661.5,468.3 L664.5,471.9 L667.5,468.6 L670.4,468.5 L673.4,467.7 L676.3,468.3 L679.3,469.1 L682.2,467.6 L685.2,466.8 L688.2,466.1 L691.1,468.8 L694.1,467.9 L697.0,468.0 L700.0,465.6 L702.9,467.0 L705.9,464.8 L708.8,470.5 L711.8,470.9 L714.7,469.3 L717.6,468.3 L720.6,469.4 L723.5,465.5 L726.5,465.8 L729.4,470.7 L732.4,466.3 L735.3,468.2 L738.2,467.0 L741.2,463.4 L744.1,466.9 L747.1,469.8 L750.0,470.7 L752.9,463.1 L755.9,464.9 L758.8,466.9 L761.8,469.9 L764.7,470.3 L767.6,471.0 L770.6,471.1 L773.5,466.9 L776.5,465.7 L779.4,469.5 L782.4,467.1 L785.3,467.6 L788.2,466.8 L791.2,466.7 L794.1,469.2 L797.1,465.3 L800.0,463.8 L802.9,465.8 L805.9,467.4 L808.8,466.5 L811.8,466.8 L814.7,463.0 L817.6,465.2 L820.6,469.0 L823.5,466.5 L826.5,465.4 L829.4,468.9 L832.4,465.5 L835.3,468.0 L838.2,466.9 L841.2,467.2 L844.1,468.4 L847.1,470.7 L850.0,468.7 L852.9,464.4 L855.9,463.8 L858.8,465.3 L861.8,465.5 L864.7,467.1 L867.6,465.7 L870.6,466.0 L873.5,462.1 L876.5,465.3 L879.4,466.3 L882.4,468.6 L885.3,466.7 L888.2,465.2 L891.2,462.6 L894.1,464.8 L897.1,464.7 L900.0,464.3 L902.9,464.8 L905.9,465.4 L908.8,465.2 L911.8,468.6 L914.7,462.1 L917.6,460.8 L920.6,464.6 L923.5,461.2 L926.5,463.1 L929.4,463.2 L932.4,461.6 L935.3,464.7 L938.2,464.2 L941.2,463.1 L944.1,463.9 L947.1,464.2 L950.0,461.7 L952.9,463.4 L955.9,462.3 L958.8,461.9 L961.8,460.8 L964.7,465.0 L967.6,462.0 L970.6,458.3 L973.5,462.0 L976.5,455.7 L979.4,461.2 L982.4,462.0 L985.3,463.1 L988.2,460.5 L991.2,458.5 L994.1,463.5 L997.1,461.5 L1000.0,461.8 L1002.9,458.6 L1005.9,460.1 L1008.8,455.1 L1011.8,459.3 L1014.7,453.9 L1017.6,455.8 L1020.6,454.7 L1023.5,459.6 L1026.5,458.9 L1029.4,455.6 L1032.4,458.9 L1035.3,456.4 L1038.2,452.0 L1041.2,454.9 L1044.1,451.9 L1047.1,455.3 L1050.0,455.6 L1052.8,453.2 L1055.6,456.0 L1058.5,456.3 L1061.3,452.2 L1064.1,455.0 L1066.9,453.4 L1069.7,452.8 L1072.5,456.5 L1075.4,451.5 L1078.2,451.9 L1081.0,452.1 L1083.7,453.0 L1086.4,452.9 L1089.1,448.9 L1091.9,452.8 L1094.6,453.1 L1097.3,452.7 L1100.0,448.2 L1103.2,445.8 L1106.5,443.3 L1109.8,444.8 L1113.0,442.7 L1115.9,441.9 L1118.7,440.0 L1121.6,436.1 L1124.5,439.3 L1127.4,438.9 L1130.2,437.9 L1133.1,435.1 L1136.0,436.7 L1138.9,436.1 L1141.7,433.1 L1144.6,435.5 L1147.7,432.4 L1150.8,430.3 L1153.8,428.1 L1156.9,423.9 L1160.0,421.5 L1162.7,420.3 L1165.3,418.3 L1168.0,416.1 L1170.7,411.6 L1173.3,410.8 L1176.0,408.7 L1178.7,401.2 L1181.3,400.1 L1184.0,397.8 L1186.7,394.7 L1189.3,394.5 L1192.0,389.8 L1194.7,383.6 L1197.3,379.3 L1200.0,372.7 L1202.5,368.7 L1205.1,367.4 L1207.6,357.4 L1209.8,354.0 L1212.0,347.5 L1215.0,355.1 L1218.0,361.7 L1221.0,361.4 L1224.0,355.6 L1227.0,360.2 L1230.0,366.0 L1233.0,356.8 L1236.0,360.7 L1238.5,358.2 L1241.0,364.7 L1243.8,370.8 L1246.6,370.3 L1249.4,372.1 L1252.2,380.1 L1255.0,380.1 L1258.1,385.5 L1261.3,387.5 L1264.4,389.1 L1267.6,395.6 L1270.7,395.2 L1273.9,403.1 L1277.0,402.3 L1280.2,406.5 L1283.3,410.9 L1286.5,415.4 L1289.6,414.7 L1292.7,417.1 L1295.8,422.7 L1298.9,421.6 L1302.0,424.8 L1304.7,424.4 L1307.3,423.8 L1310.0,424.7 L1312.7,427.7 L1315.3,428.3 L1318.0,427.8 L1321.0,428.1 L1324.0,432.4 L1327.0,431.9 L1330.0,430.7 L1333.2,429.7 L1336.3,429.9 L1339.5,435.0 L1342.6,430.1 L1345.8,436.3 L1348.9,431.0 L1352.1,430.2 L1355.2,437.9 L1358.4,434.3 L1361.5,437.9 L1364.7,435.3 L1367.8,433.1 L1371.0,434.1 L1374.1,430.2 L1377.3,430.2 L1380.4,427.3 L1383.6,422.0 L1386.7,423.8 L1389.9,419.8 L1393.0,418.8 L1396.2,418.7 L1399.3,414.3 L1402.5,417.3 L1405.6,416.3 L1408.8,417.3 L1411.4,411.7 L1414.1,405.8 L1416.7,399.1 L1419.3,395.6 L1422.0,388.8 L1424.6,387.5 L1427.2,382.4 L1429.9,378.2 L1432.5,375.0 L1435.1,371.9 L1437.8,367.8 L1440.4,361.8 L1443.0,362.9 L1445.6,357.4 L1448.2,356.6 L1450.8,356.6 L1453.4,356.4 L1456.0,360.5 L1458.7,361.2 L1461.3,362.7 L1464.0,367.6 L1466.3,372.3 L1468.7,377.3 L1472.0,390.2 L1474.6,397.5 L1477.2,405.2 L1479.8,412.6 L1482.4,418.3 L1485.0,428.5 L1487.6,434.1 L1490.2,438.2 L1492.9,448.0 L1495.5,453.2 L1498.1,450.0 L1500.8,454.2 L1503.4,454.4 L1506.6,459.0 L1509.7,456.0 L1512.9,460.7 L1516.0,461.4 L1519.2,463.7 L1522.4,458.7 L1525.5,461.7 L1528.7,463.6 L1531.8,466.5 L1535.0,465.1 L1537.9,466.6 L1540.7,466.1 L1543.6,463.6 L1546.5,465.2 L1549.3,464.7 L1552.2,465.0 L1555.0,463.9 L1557.9,467.2 L1560.8,466.4 L1563.6,462.1 L1566.5,467.4 L1569.4,464.9 L1572.3,463.1 L1575.2,468.5 L1578.0,466.2 L1580.9,467.0 L1583.8,466.1 L1586.7,466.3 L1589.6,462.9 L1592.5,468.0 L1595.3,465.1 L1598.2,466.6 L1601.1,466.5 L1604.0,464.8 L1606.9,464.3 L1609.8,466.5 L1612.7,469.4 L1615.6,465.6 L1618.5,465.8 L1621.3,467.2 L1624.2,465.9 L1627.1,469.7 L1630.0,468.1 L1632.9,472.2 L1635.8,467.7 L1638.7,471.7 L1641.6,466.2 L1644.5,467.9 L1647.4,465.4 L1650.3,466.8 L1653.2,467.0 L1656.1,468.9 L1658.9,470.4 L1661.8,467.2 L1664.7,464.9 L1667.6,467.9 L1670.5,467.6 L1673.4,467.0 L1676.3,469.8 L1679.2,470.4 L1682.1,466.8 L1685.0,466.9 L1687.9,463.2 L1690.8,467.2 L1693.6,470.2 L1696.5,466.7 L1699.4,470.5 L1702.3,470.1 L1705.2,470.1 L1708.1,470.2 L1711.0,468.8 L1713.9,471.1 L1716.8,471.2 L1719.7,469.9 L1722.6,469.2 L1725.5,471.9 L1728.3,472.3 L1731.2,468.1 L1734.1,471.1 L1737.0,469.6 L1739.9,474.1 L1742.8,468.8 L1745.7,468.3 L1748.7,467.7 L1751.6,471.3 L1754.6,467.4 L1757.5,470.8 L1760.5,468.5 L1763.4,472.2 L1766.4,472.6 L1769.3,471.8 L1772.3,465.6 L1775.2,466.6 L1778.2,464.1 L1781.1,474.7 L1784.0,468.3 L1787.0,468.7 L1789.9,469.6 L1792.9,470.7 L1795.8,468.8 L1798.8,469.6 L1801.7,469.5 L1804.7,466.9 L1807.6,473.1 L1810.6,473.0 L1813.5,469.6" fill="none" stroke="#32ab62" stroke-width="12" stroke-linejoin="bevel" stroke-linecap="butt"/>
<line x1="176.4" y1="94" x2="337.8" y2="94" stroke="#4f4f4f" stroke-width="8.6" stroke-linecap="butt"/>
<line x1="181.9" y1="189.2" x2="332.3" y2="189.2" stroke="#f44343" stroke-width="11" stroke-linecap="round"/>
<line x1="176.4" y1="284.5" x2="337.8" y2="284.5" stroke="#1062de" stroke-width="9.5" stroke-linecap="butt"/>
<line x1="176.4" y1="380" x2="337.8" y2="380" stroke="#32ab62" stroke-width="11.5" stroke-linecap="butt"/>
<g font-family='"Liberation Serif", "Times New Roman", serif' fill="#000">
<text transform="translate(371.7,120.0) scale(0.980,1.000)" font-size="78.5" font-weight="bold">GO</text>
<text transform="translate(371.5,216.9) scale(0.980,1.000)" font-size="78.5" font-weight="bold">ZnO</text>
<text transform="translate(369.5,311.1) scale(0.980,1.000)" font-size="78.5" font-weight="bold">ZS-2</text>
<text transform="translate(369.8,407.9) scale(0.980,1.000)" font-size="78.5" font-weight="bold">ZSG-15</text>
<text transform="translate(393.1,1486.1) scale(0.980,1.000)" font-size="78.3" font-weight="bold">500</text>
<text transform="translate(827.3,1486.6) scale(0.980,1.000)" font-size="78.3" font-weight="bold">1000</text>
<text transform="translate(1282.4,1486.6) scale(0.980,1.000)" font-size="78.3" font-weight="bold">1500</text>
<text transform="translate(1736.3,1486.2) scale(0.980,1.000)" font-size="78.3" font-weight="bold">2000</text>
<text x="1154.7" y="329.8" font-size="59" font-weight="bold">1338</text>
<text x="1392.3" y="331.5" font-size="59" font-weight="bold">1600</text>
<text x="410.8" y="562.5" font-size="59" font-weight="bold">440</text>
<text x="236.3" y="759.2" font-size="59" font-weight="bold">335</text>
<text x="417.1" y="782.2" font-size="59" font-weight="bold">494</text>
<text x="542.0" y="805.5" font-size="59" font-weight="bold">587</text>
<text x="984.7" y="796.4" font-size="59" font-weight="bold">1155</text>
<text x="410.4" y="918.0" font-size="59" font-weight="bold">442</text>
<text x="247.9" y="1002.2" font-size="59" font-weight="bold">333</text>
<text x="492.5" y="1027.5" font-size="59" font-weight="bold">578</text>
<text x="967.0" y="1032.9" font-size="59" font-weight="bold">1151</text>
<text x="1069.5" y="1202.2" font-size="59" font-weight="bold">1350</text>
<text x="1477.5" y="1203.7" font-size="59" font-weight="bold">1593</text>
<text transform="translate(1377.3,154.4) scale(0.960,1.000)" font-size="65" font-weight="bold" font-family='"Noto Serif CJK SC",serif'>λ</text>
<text transform="translate(1418.5,176.8) scale(0.980,1.000)" font-size="54" font-weight="bold">exc</text>
<text transform="translate(1489.7,153.3) scale(1.110,0.860)" font-size="78.5" font-weight="bold">=</text>
<text transform="translate(1536.1,154.7) scale(0.960,1.000)" font-size="79" font-weight="bold">532</text>
<text transform="translate(1673.4,153.6) scale(0.980,1.000)" font-size="74" font-weight="bold">nm</text>
<text transform="translate(607.1,1598.8) scale(1.035,1.000)" font-size="81" font-weight="bold">Wavenumber</text>
<text x="1176.1" y="1599.1" font-size="81" font-weight="bold">cm</text>
<text transform="translate(1279.5,1564.9) scale(1.350,1.000)" font-size="52" font-weight="bold">-</text>
<text transform="translate(1298.3,1563.9) scale(0.950,1.000)" font-size="53" font-weight="normal">1</text>
<text transform="translate(1079.9,1596.5) scale(1.250,1.000)" font-size="70" font-weight="normal" font-family='"Liberation Serif","Noto Serif CJK SC",serif'>（</text>
<text transform="translate(1335.0,1596.5) scale(1.200,1.000)" font-size="70" font-weight="normal" font-family='"Liberation Serif","Noto Serif CJK SC",serif'>）</text>
<text transform="translate(64.8,892.4) rotate(-90)" font-size="84" font-weight="bold">Intensity (a.u.)</text>
</g>
</svg>
</body></html>
